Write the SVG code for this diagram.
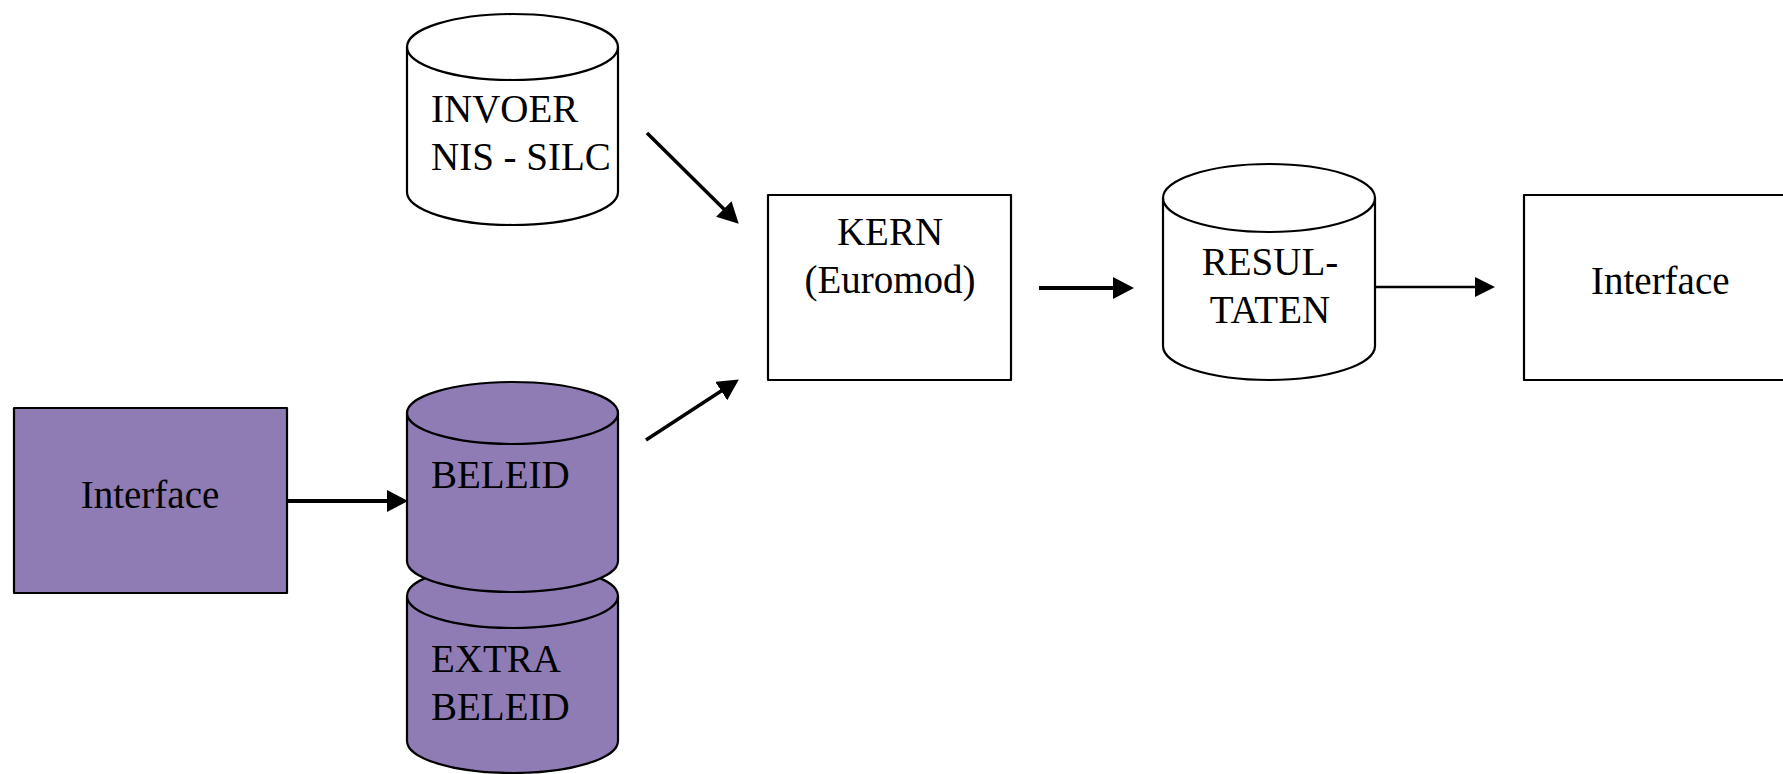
<svg xmlns="http://www.w3.org/2000/svg" width="1783" height="774" viewBox="0 0 1783 774">
<defs>
<style>
.lbl{font-family:"Liberation Serif","Times New Roman",serif;font-size:39px;fill:#000}
.shp{stroke:#000;stroke-width:2.2;stroke-linejoin:round}
.white{fill:#fff}
.purple{fill:#8F7CB4}
.con{stroke:#000;fill:none;stroke-linecap:butt}
</style>
<marker id="ah" markerUnits="userSpaceOnUse" markerWidth="22" markerHeight="24" refX="10" refY="11" orient="auto">
<path d="M0,0 L21,11 L0,22 Z" fill="#000"/>
</marker>
<marker id="ahs" markerUnits="userSpaceOnUse" markerWidth="22" markerHeight="22" refX="10" refY="10" orient="auto">
<path d="M0,0 L20,10 L0,20 Z" fill="#000"/>
</marker>
</defs>
<rect width="1783" height="774" fill="#fff"/>

<g id="invoer">
<path class="shp white" d="M407,47 A105.5,33 0 0 1 618,47 L618,192 A105.5,33 0 0 1 407,192 Z"/>
<path class="shp" fill="none" d="M407,47 A105.5,33 0 0 0 618,47"/>
<text class="lbl" x="431" y="122">INVOER</text>
<text class="lbl" x="431" y="170">NIS - SILC</text>
</g>

<g id="extra-beleid">
<path class="shp purple" d="M407,596 A105.5,32 0 0 1 618,596 L618,741 A105.5,32 0 0 1 407,741 Z"/>
<path class="shp" fill="none" d="M407,596 A105.5,32 0 0 0 618,596"/>
<text class="lbl" x="431" y="672">EXTRA</text>
<text class="lbl" x="431" y="720">BELEID</text>
</g>

<g id="beleid">
<path class="shp purple" d="M407,413 A105.5,31 0 0 1 618,413 L618,561 A105.5,31 0 0 1 407,561 Z"/>
<path class="shp" fill="none" d="M407,413 A105.5,31 0 0 0 618,413"/>
<text class="lbl" x="431" y="488">BELEID</text>
</g>

<g id="interface-left">
<rect class="shp purple" x="14" y="408" width="273" height="185"/>
<text class="lbl" x="150" y="508" text-anchor="middle">Interface</text>
</g>

<g id="kern">
<rect class="shp white" x="768" y="195" width="243" height="185"/>
<text class="lbl" x="890" y="245" text-anchor="middle">KERN</text>
<text class="lbl" x="890" y="293" text-anchor="middle">(Euromod)</text>
</g>

<g id="resultaten">
<path class="shp white" d="M1163,198 A106,34 0 0 1 1375,198 L1375,346 A106,34 0 0 1 1163,346 Z"/>
<path class="shp" fill="none" d="M1163,198 A106,34 0 0 0 1375,198"/>
<text class="lbl" x="1270" y="275" text-anchor="middle">RESUL-</text>
<text class="lbl" x="1270" y="323" text-anchor="middle">TATEN</text>
</g>

<g id="interface-right">
<rect class="shp white" x="1524" y="195" width="300" height="185"/>
<text class="lbl" x="1591" y="294">Interface</text>
</g>

<g id="connectors">
<line class="con" stroke-width="3.5" x1="647" y1="133" x2="730.9" y2="216" marker-end="url(#ah)"/>
<line class="con" stroke-width="3.5" x1="646" y1="440" x2="729.6" y2="385.5" marker-end="url(#ah)"/>
<line class="con" stroke-width="4" x1="1039" y1="288" x2="1123" y2="288" marker-end="url(#ah)"/>
<line class="con" stroke-width="2.5" x1="1375" y1="287" x2="1485" y2="287" marker-end="url(#ahs)"/>
<line class="con" stroke-width="4" x1="287" y1="501" x2="397" y2="501" marker-end="url(#ah)"/>
</g>
</svg>
